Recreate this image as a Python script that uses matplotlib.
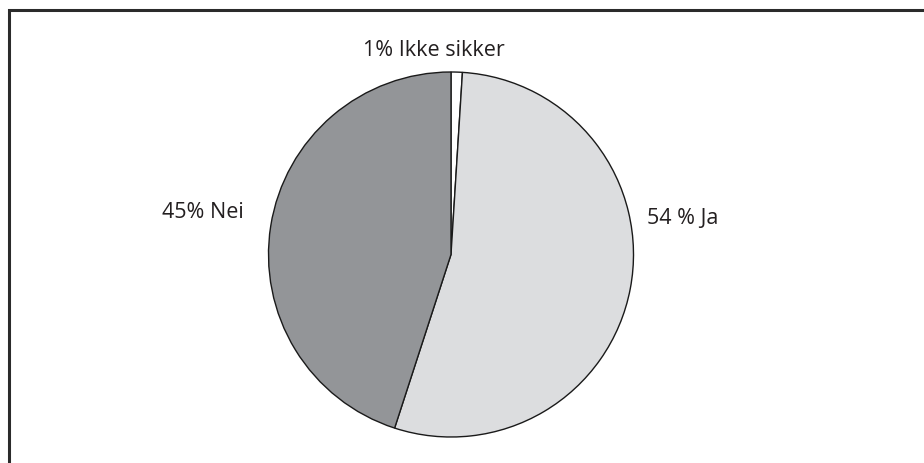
import matplotlib
matplotlib.use("Agg")
import matplotlib.pyplot as plt
from matplotlib.patches import Rectangle

# Survey answers
categories = ["Ikke sikker", "Ja", "Nei"]
shares = [1, 54, 45]
label_texts = ["1% Ikke sikker", "54 % Ja", "45% Nei"]
colors = ["#ffffff", "#dcdddf", "#939598"]

W, H = 924, 463
fig = plt.figure(figsize=(W / 100, H / 100), dpi=100)
ax = fig.add_axes([0, 0, 1, 1])

# Outer frame (runs off the right and bottom edges)
ax.add_patch(Rectangle((8.5, -10), W + 20, H - 9.5 + 10, fill=False,
                       edgecolor="#2b2b2b", linewidth=2.2))

cx, cy, r = 451, H - 254.5, 182.5
ax.pie(shares, colors=colors, startangle=90, counterclock=False,
       center=(cx, cy), radius=r, frame=True,
       wedgeprops=dict(edgecolor="#1a1a1a", linewidth=1.0))
ax.set_xlim(0, W)
ax.set_ylim(0, H)
ax.set_aspect("equal")
ax.axis("off")

font = dict(family=["Open Sans", "DejaVu Sans"], fontsize=15.5, color="#231f20")
ax.text(434, H - 50, label_texts[0], ha="center", va="center", **font)
ax.text(647, H - 219, label_texts[1], ha="left", va="center", **font)
ax.text(244, H - 212, label_texts[2], ha="right", va="center", **font)

fig.savefig("out.png", dpi=100)
